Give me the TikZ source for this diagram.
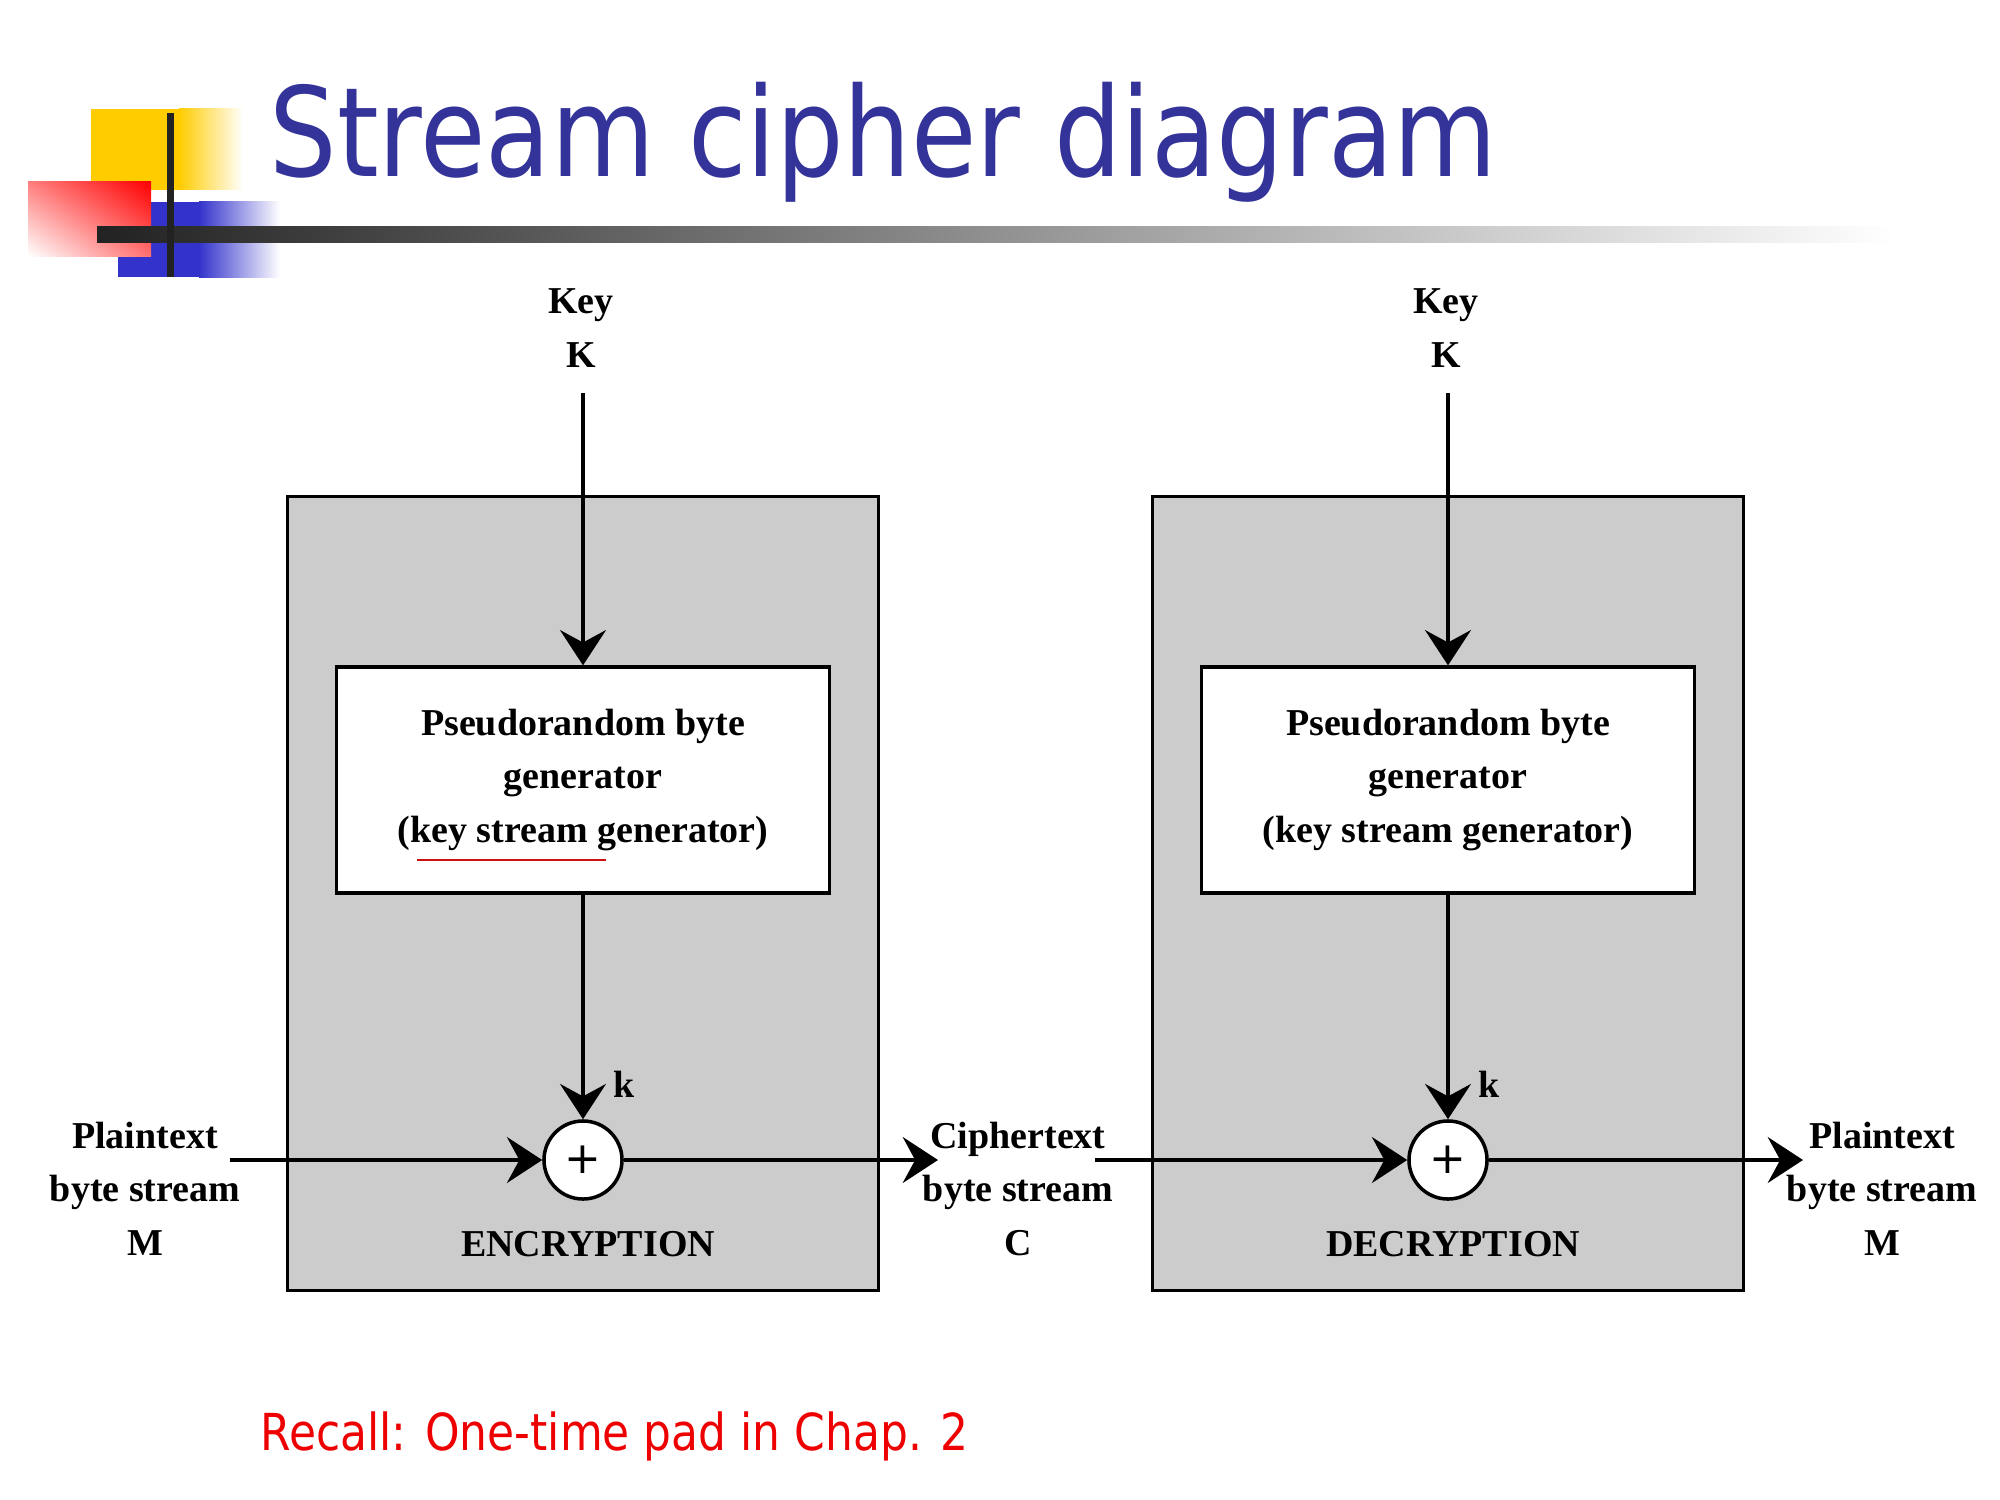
\documentclass[tikz,border=0pt]{standalone}
\usepackage{fontspec}
\setmainfont{Liberation Serif}
\newfontfamily\slidefont{DejaVu Sans}
\usetikzlibrary{arrows.meta,shadings}
\definecolor{titleblue}{HTML}{333399}
\definecolor{boxgray}{HTML}{CCCCCC}
\definecolor{logoyellow}{HTML}{FFCC00}
\definecolor{logoblue}{HTML}{3333CC}
\definecolor{logored}{HTML}{FF0000}
\definecolor{redmidA}{HTML}{FF8080}
\definecolor{redmidB}{HTML}{FF7070}
\definecolor{recallred}{HTML}{EE0000}
\definecolor{underred}{HTML}{CC1111}
\definecolor{bardark}{HTML}{222222}
\begin{document}
\begin{tikzpicture}[x=0.01cm,y=-0.01cm,
  lbl/.style={font=\fontsize{10.8}{15.2}\selectfont\bfseries, align=center, inner sep=0pt},
  stagebox/.style={draw=black, line width=0.9pt, fill=boxgray, minimum width=5.9cm, minimum height=7.93cm, inner sep=0pt},
  genbox/.style={draw=black, line width=0.9pt, fill=white, minimum width=4.92cm, minimum height=2.26cm, align=center, inner sep=0pt, font=\fontsize{10.8}{15.2}\selectfont\bfseries},
  xorc/.style={circle, draw=black, line width=1pt, fill=white, minimum size=0.78cm, inner sep=0pt, font=\slidefont\fontsize{12.5}{12.5}\selectfont},
  flow/.style={line width=1.4pt, -{Stealth[length=10pt,width=13pt,inset=3.5pt]}},
]
\useasboundingbox (0,0) rectangle (2000,1500);
\fill[white] (0,0) rectangle (2000,1500);
% logo
\fill[logoyellow] (91,109) rectangle (180,190);
\shade[left color=logoyellow, right color=white] (179,109) rectangle (243,190);
\fill[logoblue] (118,202) rectangle (200,277);
\shade[left color=logoblue, right color=white] (199,202) rectangle (280,277);
\shade[lower left=white, upper right=logored, upper left=redmidA, lower right=redmidB] (28,182) rectangle (151,256);
\shade[left color=bardark, right color=white] (97,227) rectangle (1894,243);
\fill[bardark] (167,113) rectangle (174,277);
% title
\node[anchor=base west, inner sep=0pt, text=titleblue, font=\slidefont\fontsize{35.3}{40}\selectfont] (title) at (269,176) {\scalebox{0.857}[1]{Stream cipher diagram}};
% boxes
\node[stagebox] (enc) at (583,893.5) {};
\node[stagebox] (dec) at (1448,893.5) {};
\node[genbox] (genE) at (583,780) {Pseudorandom byte\\generator\\(key stream generator)};
\node[genbox] (genD) at (1448,780) {Pseudorandom byte\\generator\\(key stream generator)};
\node[xorc] (xorE) at (583,1160) {+};
\node[xorc] (xorD) at (1448,1160) {+};
% key inputs (base anchor = baseline of last line)
\node[lbl, anchor=base] (keyE) at (581,367) {Key\\K};
\node[lbl, anchor=base] (keyD) at (1446,367) {Key\\K};
\coordinate (kE) at (583,393);
\coordinate (kD) at (1448,393);
\draw[flow] (kE) -- (genE.north);
\draw[flow] (kD) -- (genD.north);
\draw[flow] (genE.south) -- (xorE.north);
\draw[flow] (genD.south) -- (xorD.north);
\node[lbl, anchor=base west] (kLabE) at (613,1097) {k};
\node[lbl, anchor=base west] (kLabD) at (1478,1097) {k};
\node[lbl, anchor=base] (encLab) at (588,1256) {ENCRYPTION};
\node[lbl, anchor=base] (decLab) at (1453,1256) {DECRYPTION};
% streams
\node[lbl, anchor=base] (ptIn) at (145,1255) {Plaintext\\byte stream\\M};
\node[lbl, anchor=base] (ct) at (1018,1255) {Ciphertext\\byte stream\\C};
\node[lbl, anchor=base] (ptOut) at (1882,1255) {Plaintext\\byte stream\\M};
\coordinate (ptInEnd) at (230,1160);
\coordinate (ctOutEnd) at (938,1160);
\coordinate (ctInEnd) at (1095,1160);
\coordinate (ptOutEnd) at (1803,1160);
\draw[flow] (ptInEnd) -- (xorE.west);
\draw[flow] (xorE.east) -- (ctOutEnd);
\draw[flow] (ctInEnd) -- (xorD.west);
\draw[flow] (xorD.east) -- (ptOutEnd);
% red underline
\draw[underred, line width=0.7pt] (417,860) -- (606,860);
% note
\node[anchor=base west, inner sep=0pt, text=recallred, font=\slidefont\fontsize{14.5}{16}\selectfont] (recall) at (260,1450) {\scalebox{0.862}[1]{Recall: One-time pad in Chap. 2}};
\end{tikzpicture}
\end{document}
